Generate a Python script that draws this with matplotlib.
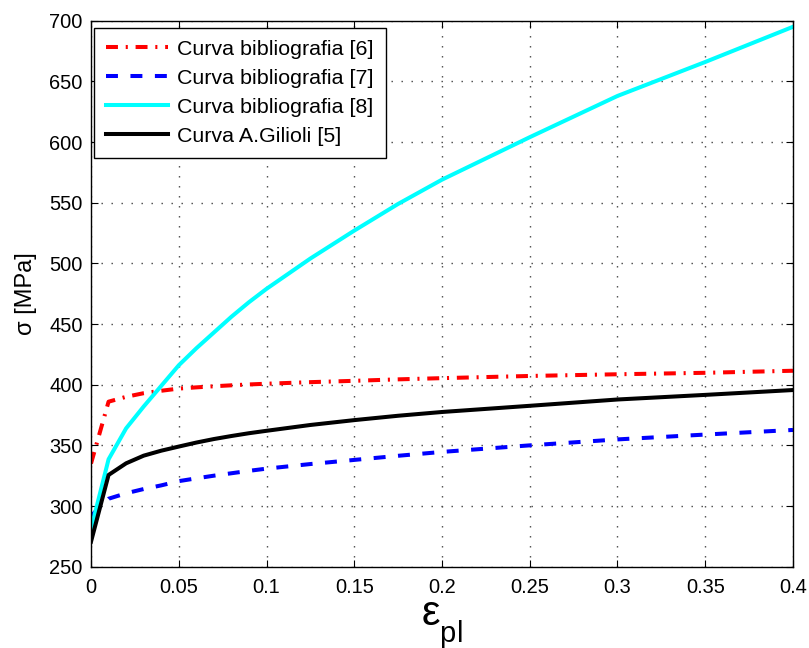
import matplotlib
matplotlib.use("Agg")
import matplotlib.pyplot as plt

try:
    import matplotlib._mathtext as _mt
    _mt.FontConstantsBase.sub1 = 0.75
except Exception:
    pass

plt.rcParams['font.family'] = ['Liberation Sans', 'DejaVu Sans']
plt.rcParams['mathtext.fontset'] = 'custom'
plt.rcParams['mathtext.rm'] = 'Liberation Sans'
plt.rcParams['lines.scale_dashes'] = False

# plastic strain values
eps = [0.0, 0.01, 0.02, 0.03, 0.04, 0.05, 0.06, 0.07, 0.08, 0.09, 0.1,
       0.125, 0.15, 0.175, 0.2, 0.25, 0.3, 0.35, 0.4]

sigma_6 = [335, 386, 390, 393, 395, 396.8, 397.8, 398.7, 399.5, 400.2, 400.8,
           402.1, 403.2, 404.4, 405.4, 407.2, 408.6, 409.8, 411.5]
sigma_7 = [291.8, 306, 310.5, 314, 317, 320.5, 322.8, 325, 327, 329, 330.8,
           334.6, 338, 341.4, 344.6, 350, 354.9, 358.9, 362.7]
sigma_8 = [281, 338.5, 364, 382, 399, 416, 430, 443, 456, 468, 479,
           504, 527, 549, 569, 604, 638, 666, 695]
sigma_5 = [270.6, 325.6, 335.2, 341.5, 345.6, 349, 352.3, 355.2, 357.7, 360, 362,
           366.8, 370.8, 374.4, 377.5, 382.6, 387.8, 391.6, 395.6]

labels = ['Curva bibliografia [6]', 'Curva bibliografia [7]',
          'Curva bibliografia [8]', 'Curva A.Gilioli [5]']

xticks = [0, 0.05, 0.1, 0.15, 0.2, 0.25, 0.3, 0.35, 0.4]
xticklabels = ['0', '0.05', '0.1', '0.15', '0.2', '0.25', '0.3', '0.35', '0.4']
yticks = [250, 300, 350, 400, 450, 500, 550, 600, 650, 700]

fig = plt.figure(figsize=(8.09, 6.48), dpi=100)
ax = fig.add_axes([0.1125, 0.1255, 0.8677, 0.8425])

lw = 2.9
ax.plot(eps, sigma_6, color='#ff0000', linestyle='-.', linewidth=lw, label=labels[0],
        dashes=(8.6, 5.6, 1.5, 5.6))
ax.plot(eps, sigma_7, color='#0000ff', linestyle='--', linewidth=lw, label=labels[1],
        dashes=(8.6, 9.0))
ax.plot(eps, sigma_8, color='#00ffff', linestyle='-', linewidth=lw, label=labels[2])
ax.plot(eps, sigma_5, color='#000000', linestyle='-', linewidth=lw, label=labels[3])

ax.set_xlim(0, 0.4)
ax.set_ylim(250, 700)
ax.set_xticks(xticks)
ax.set_xticklabels(xticklabels)
ax.set_yticks(yticks)
ax.set_axisbelow(True)

ax.grid(True, linestyle=(0, (1.0, 6.2)), color='#444444', linewidth=1.0)
ax.tick_params(direction='in', top=True, right=True, length=5, width=0.8,
               labelsize=14.4)
ax.tick_params(axis='x', pad=8)
ax.tick_params(axis='y', pad=6)
for s in ax.spines.values():
    s.set_linewidth(1.0)

ax.set_ylabel('σ [MPa]', fontsize=17, labelpad=9)
ax.set_xlabel(r'$\mathregular{ε_{pl}}$', fontsize=30, labelpad=2)

leg = ax.legend(loc='upper left', bbox_to_anchor=(0.0043, 0.9866), fontsize=15.4,
                handlelength=2.9, labelspacing=0.47, borderpad=0.55, handletextpad=0.45,
                fancybox=False, framealpha=1, edgecolor='black', borderaxespad=0.0)
leg.get_frame().set_linewidth(1.0)

fig.savefig('out.png', dpi=100)
